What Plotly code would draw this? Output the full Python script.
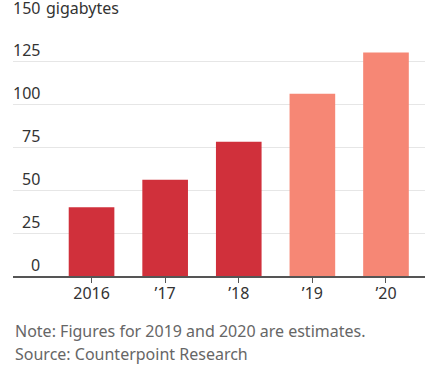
import plotly.graph_objects as go

years = ["2016", "\u201917", "\u201918", "\u201919", "\u201920"]
values = [40, 56, 78, 106, 130]
is_estimate = [False, False, False, True, True]
y_ticks = [0, 25, 50, 75, 100, 125, 150]
unit_label = "gigabytes"
note = "Note: Figures for 2019 and 2020 are estimates."
source = "Source: Counterpoint Research"

DARK = "#d0303b"
LIGHT = "#f68775"
FONT = "Noto Sans"
FS = 16

W, H = 436, 376
ML, MR, MT, MB = 13, 11, 18, 100
plot_w = W - ML - MR
plot_h = H - MT - MB

fig = go.Figure()
fig.add_trace(go.Bar(
    x=years, y=values,
    marker=dict(color=[LIGHT if e else DARK for e in is_estimate], line=dict(width=0)),
    width=0.62,
    hoverinfo="skip",
))

label_x = (41.5 - ML) / plot_w
for v in y_ticks:
    shift = -3 if v == y_ticks[-1] else -2
    fig.add_annotation(x=label_x, xref="paper", y=v, yref="y", text=str(v),
                       xanchor="right", yanchor="bottom", showarrow=False,
                       yshift=shift, font=dict(family=FONT, size=FS, color="#333333"))
fig.add_annotation(x=(43.5 - ML) / plot_w, xref="paper", y=y_ticks[-1], yref="y",
                   text=unit_label, xanchor="left", yanchor="bottom", showarrow=False,
                   yshift=-3, font=dict(family=FONT, size=FS, color="#333333"))

fig.add_annotation(x=0, xref="paper", y=(plot_h + MT - 331) / plot_h, yref="paper",
                   text=note, xanchor="left", yanchor="middle", showarrow=False,
                   font=dict(family=FONT, size=FS, color="#666666"))
fig.add_annotation(x=0, xref="paper", y=(plot_h + MT - 354) / plot_h, yref="paper",
                   text=source, xanchor="left", yanchor="middle", showarrow=False,
                   font=dict(family=FONT, size=FS, color="#666666"))

fig.update_layout(
    width=W, height=H,
    margin=dict(l=ML, r=MR, t=MT, b=MB, pad=0),
    paper_bgcolor="white", plot_bgcolor="white",
    showlegend=False,
    font=dict(family=FONT, size=FS, color="#333333"),
    xaxis=dict(
        type="category",
        range=[-1.067, 4.53],
        showline=True, linecolor="#555555", linewidth=1.5,
        ticks="outside", ticklen=5, tickcolor="#555555", tickwidth=1,
        ticklabelstandoff=-3,
        showgrid=False, zeroline=False,
        tickfont=dict(family=FONT, size=FS, color="#333333"),
        fixedrange=True,
    ),
    yaxis=dict(
        range=[0, 150],
        tickvals=y_ticks,
        showticklabels=False,
        showgrid=True, gridcolor="#e6e6e6", gridwidth=1,
        zeroline=False, showline=False, ticks="",
        fixedrange=True,
    ),
)

fig.write_html("out.html", config={"displayModeBar": False},
               post_script="document.body.style.margin='0';document.body.style.overflow='hidden';")
